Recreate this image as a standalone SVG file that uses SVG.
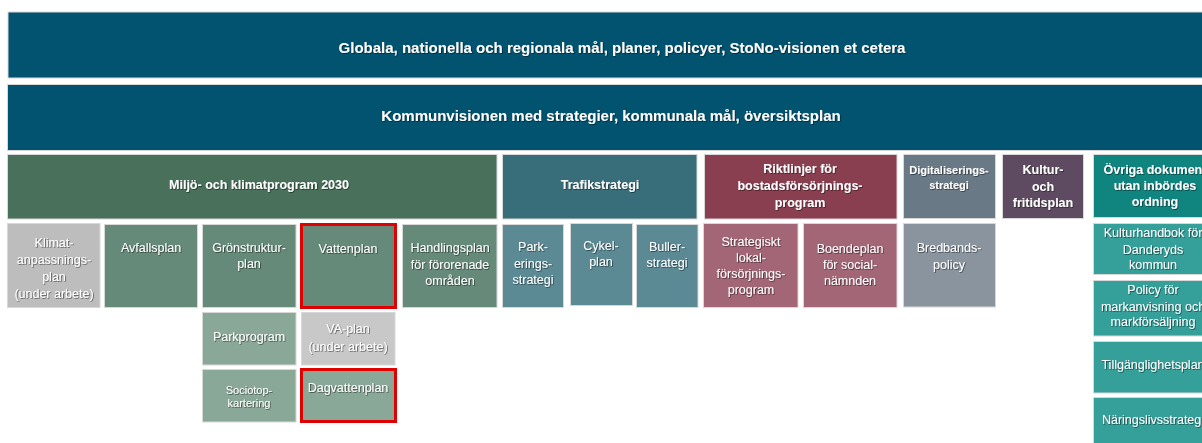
<svg xmlns="http://www.w3.org/2000/svg" width="1202" height="443" viewBox="0 0 1202 443">
<defs>
<filter id="ts" x="-5%" y="-20%" width="110%" height="140%">
<feDropShadow dx="0.8" dy="0.8" stdDeviation="0.4" flood-color="#000" flood-opacity="0.55"/>
</filter>
<style>
rect.b{stroke:#d8d8d8;stroke-width:1}
rect.red{stroke:#e00000;stroke-width:3}
text{font-family:"Liberation Sans",Arial,sans-serif;fill:#fff;text-anchor:middle;filter:url(#ts)}
.h1{font-size:15px;font-weight:bold}
.h2{font-size:12.5px;font-weight:bold}
.h3{font-size:12.5px;font-weight:bold}
.n{font-size:12.5px}
.s{font-size:11px}
.top{fill:#02536f}
.dg{fill:#48705a}
.tr{fill:#376e7a}
.rk{fill:#8a3f50}
.dig{fill:#6a7986}
.kul{fill:#5f4b61}
.ovr{fill:#10857f}
.g{fill:#668a79}
.lg{fill:#8aa897}
.gr{fill:#bdbdbd}
.gr2{fill:#c8c8c8}
.tl{fill:#5b8a95}
.rl{fill:#a26676}
.bl{fill:#8a949e}
.tq{fill:#35a09a}
</style>
</defs>
<rect width="1202" height="443" fill="#fff"/>

<g id="globala">
<rect class="b top" x="8" y="12" width="1200" height="66"/>
<text class="h1" x="622" y="53">Globala, nationella och regionala mål, planer, policyer, StoNo-visionen et cetera</text>
</g>
<g id="kommunvisionen">
<rect class="b top" x="7.5" y="84.5" width="1200" height="66"/>
<text class="h1" x="611" y="121">Kommunvisionen med strategier, kommunala mål, översiktsplan</text>
</g>

<g id="miljo">
<rect class="b dg" x="7.5" y="154.5" width="489.5" height="64.5"/>
<text class="h2" x="259" y="189">Miljö- och klimatprogram 2030</text>
</g>
<g id="trafik">
<rect class="b tr" x="502.5" y="154.5" width="194.5" height="64.5"/>
<text class="h2" x="600" y="189">Trafikstrategi</text>
</g>
<g id="riktlinjer">
<rect class="b rk" x="704.5" y="154.5" width="192.5" height="64.5"/>
<text class="h3" x="800" y="173">Riktlinjer för</text>
<text class="h3" x="800" y="190">bostadsförsörjnings-</text>
<text class="h3" x="800" y="207">program</text>
</g>
<g id="digital">
<rect class="b dig" x="903.5" y="154.5" width="92" height="64"/>
<text class="s" x="949" y="174" font-weight="bold">Digitaliserings-</text>
<text class="s" x="949" y="189" font-weight="bold">strategi</text>
</g>
<g id="kultur">
<rect class="b kul" x="1002.5" y="154.5" width="81" height="64"/>
<text class="h3" x="1043" y="174">Kultur-</text>
<text class="h3" x="1043" y="191">och</text>
<text class="h3" x="1043" y="207">fritidsplan</text>
</g>
<g id="ovriga">
<rect class="b ovr" x="1093.5" y="154.5" width="125" height="63"/>
<text class="h3" x="1155" y="174">Övriga dokument</text>
<text class="h3" x="1155" y="190">utan inbördes</text>
<text class="h3" x="1155" y="206">ordning</text>
</g>

<g id="klimat">
<rect class="b gr" x="7.5" y="223.5" width="92.5" height="84"/>
<text class="n" x="54" y="247">Klimat-</text>
<text class="n" x="54" y="264">anpassnings-</text>
<text class="n" x="54" y="281">plan</text>
<text class="n" x="54" y="298">(under arbete)</text>
</g>
<g id="avfall">
<rect class="b g" x="104.5" y="224.5" width="93" height="83"/>
<text class="n" x="151" y="252">Avfallsplan</text>
</g>
<g id="gron">
<rect class="b g" x="202.5" y="224.5" width="93.5" height="83"/>
<text class="n" x="249" y="252">Grönstruktur-</text>
<text class="n" x="249" y="268">plan</text>
</g>
<g id="vatten">
<rect class="red g" x="301.5" y="224.5" width="94" height="83"/>
<text class="n" x="348" y="253">Vattenplan</text>
</g>
<g id="handling">
<rect class="b g" x="402.5" y="224.5" width="94.5" height="83"/>
<text class="n" x="450" y="252">Handlingsplan</text>
<text class="n" x="450" y="269">för förorenade</text>
<text class="n" x="450" y="285">områden</text>
</g>
<g id="parkering">
<rect class="b tl" x="502.5" y="224.5" width="61" height="83"/>
<text class="n" x="533" y="251">Park-</text>
<text class="n" x="533" y="268">erings-</text>
<text class="n" x="533" y="284">strategi</text>
</g>
<g id="cykel">
<rect class="b tl" x="570.5" y="223.5" width="62" height="82"/>
<text class="n" x="601" y="250">Cykel-</text>
<text class="n" x="601" y="266">plan</text>
</g>
<g id="buller">
<rect class="b tl" x="636.5" y="224.5" width="61.5" height="83"/>
<text class="n" x="667" y="251">Buller-</text>
<text class="n" x="667" y="267">strategi</text>
</g>
<g id="strategiskt">
<rect class="b rl" x="703.5" y="223.5" width="94.5" height="84"/>
<text class="n" x="751" y="246">Strategiskt</text>
<text class="n" x="751" y="262">lokal-</text>
<text class="n" x="751" y="278">försörjnings-</text>
<text class="n" x="751" y="294">program</text>
</g>
<g id="boende">
<rect class="b rl" x="803.5" y="223.5" width="93.5" height="84"/>
<text class="n" x="850" y="253">Boendeplan</text>
<text class="n" x="850" y="269">för social-</text>
<text class="n" x="850" y="285">nämnden</text>
</g>
<g id="bredband">
<rect class="b bl" x="903.5" y="223.5" width="92" height="83.5"/>
<text class="n" x="949" y="252">Bredbands-</text>
<text class="n" x="949" y="269">policy</text>
</g>

<g id="parkprogram">
<rect class="b lg" x="202.5" y="312.5" width="93.5" height="52.5"/>
<text class="n" x="249" y="341">Parkprogram</text>
</g>
<g id="vaplan">
<rect class="b gr2" x="301.5" y="312.5" width="93.5" height="52.5"/>
<text class="n" x="348" y="333">VA-plan</text>
<text class="n" x="348" y="351">(under arbete)</text>
</g>
<g id="sociotop">
<rect class="b lg" x="202.5" y="369.5" width="93.5" height="52.5"/>
<text class="s" x="249" y="394">Sociotop-</text>
<text class="s" x="249" y="407">kartering</text>
</g>
<g id="dagvatten">
<rect class="red lg" x="301.5" y="369.5" width="94" height="52"/>
<text class="n" x="348" y="392">Dagvattenplan</text>
</g>

<g id="kulturhandbok">
<rect class="b tq" x="1093.5" y="223.5" width="125" height="51"/>
<text class="n" x="1153" y="237">Kulturhandbok för</text>
<text class="n" x="1153" y="254">Danderyds</text>
<text class="n" x="1153" y="269">kommun</text>
</g>
<g id="policy">
<rect class="b tq" x="1093.5" y="280.5" width="125" height="55.5"/>
<text class="n" x="1153" y="294">Policy för</text>
<text class="n" x="1153" y="311">markanvisning och</text>
<text class="n" x="1153" y="326">markförsäljning</text>
</g>
<g id="tillganglighet">
<rect class="b tq" x="1093.5" y="341.5" width="125" height="51.5"/>
<text class="n" x="1153" y="369">Tillgänglighetsplan</text>
</g>
<g id="naringsliv">
<rect class="b tq" x="1093.5" y="397.5" width="125" height="55"/>
<text class="n" x="1153" y="424">Näringslivsstrategi</text>
</g>

<g id="connectors"></g>
</svg>
